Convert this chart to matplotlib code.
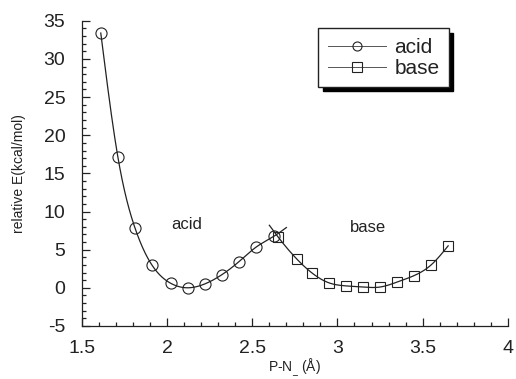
import numpy as np
import matplotlib
matplotlib.use('Agg')
import matplotlib.pyplot as plt
from matplotlib.ticker import MultipleLocator, FormatStrFormatter

plt.rcParams['font.family'] = ['Liberation Sans', 'DejaVu Sans']

# ---- data ----
acid_x = [1.61, 1.71, 1.81, 1.91, 2.02, 2.12, 2.22, 2.32, 2.42, 2.52, 2.63]
acid_y = [33.4, 17.2, 7.9, 3.0, 0.6, 0.0, 0.5, 1.7, 3.4, 5.3, 6.8]
base_x = [2.65, 2.76, 2.85, 2.95, 3.05, 3.15, 3.25, 3.35, 3.45, 3.55, 3.65]
base_y = [6.7, 3.8, 1.95, 0.65, 0.25, 0.1, 0.1, 0.75, 1.6, 3.0, 5.5]

# short overshoot of each fitted curve past the crossing point
acid_tail = (2.70, 7.9)
base_tail = (2.60, 8.2)

ink = '#222222'


def spline(x, y, n=400):
    # natural cubic spline, drawn as a smooth line through the points
    x = np.asarray(x, float)
    y = np.asarray(y, float)
    h = np.diff(x)
    m = len(x)
    A = np.zeros((m, m))
    r = np.zeros(m)
    A[0, 0] = A[-1, -1] = 1
    for i in range(1, m - 1):
        A[i, i - 1] = h[i - 1]
        A[i, i] = 2 * (h[i - 1] + h[i])
        A[i, i + 1] = h[i]
        r[i] = 6 * ((y[i + 1] - y[i]) / h[i] - (y[i] - y[i - 1]) / h[i - 1])
    M = np.linalg.solve(A, r)
    xs = np.linspace(x[0], x[-1], n)
    k = np.clip(np.searchsorted(x, xs) - 1, 0, m - 2)
    t0 = x[k + 1] - xs
    t1 = xs - x[k]
    hk = h[k]
    ys = (M[k] * t0 ** 3 + M[k + 1] * t1 ** 3) / (6 * hk) \
        + (y[k] / hk - M[k] * hk / 6) * t0 + (y[k + 1] / hk - M[k + 1] * hk / 6) * t1
    return xs, ys


fig = plt.figure(figsize=(5.16, 3.79), dpi=100)
ax = fig.add_axes([0.159, 0.140, 0.825, 0.805])

sx, sy = spline(acid_x + [acid_tail[0]], acid_y + [acid_tail[1]])
ax.plot(sx, sy, color=ink, lw=0.9, zorder=2)
sx, sy = spline([base_tail[0]] + base_x, [base_tail[1]] + base_y)
ax.plot(sx, sy, color=ink, lw=0.9, zorder=2)

ax.plot(acid_x, acid_y, linestyle='none', marker='o', ms=8, mfc='none',
        mec=ink, mew=0.8, zorder=3)
ax.plot(base_x, base_y, linestyle='none', marker='s', ms=7.5, mfc='none',
        mec=ink, mew=0.8, zorder=3)

# legend handles (line + marker)
h1, = ax.plot([], [], color='#555555', lw=0.7, marker='o', ms=6.5, mfc='none', mec=ink, mew=0.8)
h2, = ax.plot([], [], color='#555555', lw=0.7, marker='s', ms=6.5, mfc='none', mec=ink, mew=0.8)
leg = ax.legend([h1, h2], ['acid', 'base'], loc='upper right',
                bbox_to_anchor=(0.862, 0.975), borderaxespad=0, fontsize=15,
                frameon=True, fancybox=False,
                shadow={'color': 'black', 'alpha': 1, 'ox': 3, 'oy': -3},
                edgecolor=ink, framealpha=1, handlelength=2.8,
                handletextpad=0.4, borderpad=0.45, labelspacing=0.1)
leg.get_frame().set_linewidth(1.0)
for t in leg.get_texts():
    t.set_color(ink)

ax.text(2.115, 8.3, 'acid', fontsize=12, color=ink, ha='center', va='center')
ax.text(3.18, 7.9, 'base', fontsize=12, color=ink, ha='center', va='center')

ax.set_xlim(1.5, 4)
ax.set_ylim(-5, 35)
ax.xaxis.set_major_locator(MultipleLocator(0.5))
ax.xaxis.set_minor_locator(MultipleLocator(0.1))
ax.yaxis.set_major_locator(MultipleLocator(5))
ax.yaxis.set_minor_locator(MultipleLocator(1))
ax.xaxis.set_major_formatter(FormatStrFormatter('%g'))
ax.yaxis.set_major_formatter(FormatStrFormatter('%g'))
ax.tick_params(which='both', direction='in', colors=ink, labelsize=14, width=0.9)
ax.tick_params(which='major', length=6)
ax.tick_params(axis='x', which='major', pad=10)
ax.tick_params(axis='y', which='major', pad=12)
ax.tick_params(which='minor', length=3)

ax.spines['top'].set_visible(False)
ax.spines['right'].set_visible(False)
for s in ('left', 'bottom'):
    ax.spines[s].set_color(ink)
    ax.spines[s].set_linewidth(0.9)

ax.set_ylabel('relative E(kcal/mol)', fontsize=10, color=ink, labelpad=13)
ax.set_xlabel('P-N$_{\\_}$ (Å)', fontsize=10, color=ink, labelpad=0)

fig.savefig('out.png', dpi=100)
